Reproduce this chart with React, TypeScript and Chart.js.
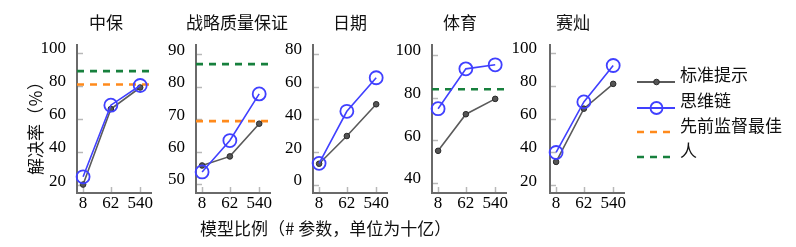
import React, { useEffect, useRef } from 'react';
import { Chart, registerables } from 'chart.js';

Chart.register(...registerables);

// ---------------- data ----------------
const modelSizes = [8, 62, 540];
const taskTitles = ['中保', '战略质量保证', '日期', '体育', '赛灿'];
const seriesNames = ['标准提示', '思维链', '先前监督最佳', '人'];
const yAxisTitle = '解决率（％）';
const xAxisTitle = '模型比例（# 参数，单位为十亿）';

const standardCsqa = [20.3, 66.0, 79.0];
const chainCsqa = [25.0, 68.3, 80.2];
const priorBestCsqa = 80.8;
const humanCsqa = 88.9;

const standardStrategy = [55.7, 58.5, 68.6];
const chainStrategy = [53.7, 63.4, 77.8];
const priorBestStrategy = 69.4;
const humanStrategy = 87.0;

const standardDate = [13.0, 29.9, 49.3];
const chainDate = [13.2, 45.0, 65.5];

const standardSports = [55.0, 72.2, 79.4];
const chainSports = [74.8, 93.5, 95.4];
const humanSports = 83.9;

const standardSaycan = [34.0, 66.2, 81.2];
const chainSaycan = [39.7, 70.3, 92.3];

const yTicksCsqa = [20, 40, 60, 80, 100];
const yTicksStrategy = [50, 60, 70, 80, 90];
const yTicksDate = [0, 20, 40, 60, 80];
const yTicksSports = [40, 60, 80, 100];
const yTicksSaycan = [20, 40, 60, 80, 100];

// ---------------- style / layout ----------------
const BLUE = 'rgb(64,64,255)';
const GREY = '#5a5a5a';
const ORANGE = '#ff8a1c';
const GREEN = '#17803d';
const CJK = "'Noto Sans CJK SC', 'Noto Sans CJK JP', sans-serif";
const SERIF = "'Liberation Serif', 'Times New Roman', serif";

const X_MIN = 5.1;
const X_MAX = 1290;
const PLOT_W = 75;
const PLOT_TOP = 45;
const PLOT_BOTTOM = 193;
const CANVAS_TOP = 20;
const Y_AXIS_W = 52;
const X_AXIS_H = 24;
const RIGHT_PAD = 12;

type PanelCfg = {
  title: string;
  standard: number[];
  chain: number[];
  prior?: number;
  human?: number;
  yTicks: number[];
  yMin: number;
  yMax: number;
  left: number;
  titleX: number;
  labelPad: number;
};

const panels: PanelCfg[] = [
  { title: taskTitles[0], standard: standardCsqa, chain: chainCsqa, prior: priorBestCsqa, human: humanCsqa, yTicks: yTicksCsqa, yMin: 15.2, yMax: 104.7, left: 77, titleX: 106, labelPad: 11 },
  { title: taskTitles[1], standard: standardStrategy, chain: chainStrategy, prior: priorBestStrategy, human: humanStrategy, yTicks: yTicksStrategy, yMin: 47.2, yMax: 92.9, left: 196, titleX: 237, labelPad: 11 },
  { title: taskTitles[2], standard: standardDate, chain: chainDate, yTicks: yTicksDate, yMin: -4.9, yMax: 85.5, left: 313, titleX: 350, labelPad: 11 },
  { title: taskTitles[3], standard: standardSports, chain: chainSports, human: humanSports, yTicks: yTicksSports, yMin: 35.2, yMax: 104.7, left: 432, titleX: 460, labelPad: 11 },
  { title: taskTitles[4], standard: standardSaycan, chain: chainSaycan, yTicks: yTicksSaycan, yMin: 15.2, yMax: 104.7, left: 550, titleX: 573, labelPad: 13 },
];

const innerTicks = {
  id: 'innerTicks',
  beforeDatasetsDraw(chart: any) {
    const { ctx, chartArea, scales } = chart;
    ctx.save();
    ctx.strokeStyle = '#b8b8b8';
    ctx.lineWidth = 1.5;
    scales.y.ticks.forEach((t: any) => {
      const y = Math.round(scales.y.getPixelForValue(t.value)) + 0.5;
      ctx.beginPath();
      ctx.moveTo(chartArea.left + 1, y);
      ctx.lineTo(chartArea.left + 6, y);
      ctx.stroke();
    });
    scales.x.ticks.forEach((t: any) => {
      const x = Math.round(scales.x.getPixelForValue(t.value)) + 0.5;
      ctx.beginPath();
      ctx.moveTo(x, chartArea.bottom - 1);
      ctx.lineTo(x, chartArea.bottom - 6);
      ctx.stroke();
    });
    ctx.restore();
  },
};

function Panel({ p }: { p: PanelCfg }) {
  const ref = useRef<HTMLCanvasElement>(null);
  const width = Y_AXIS_W + PLOT_W + RIGHT_PAD;
  const height = PLOT_BOTTOM - CANVAS_TOP + X_AXIS_H;

  useEffect(() => {
    const pts = (vals: number[]) => modelSizes.map((x, i) => ({ x, y: vals[i] }));
    const hline = (v: number) => [{ x: X_MIN, y: v }, { x: X_MAX, y: v }];
    const datasets: any[] = [
      {
        label: seriesNames[1], data: pts(p.chain), borderColor: BLUE, borderWidth: 1.6,
        pointRadius: 6.5, pointBorderWidth: 1.8, pointBorderColor: BLUE,
        pointBackgroundColor: 'rgba(0,0,0,0)', clip: false, order: 0,
      },
      {
        label: seriesNames[0], data: pts(p.standard), borderColor: GREY, borderWidth: 1.6,
        pointRadius: 2.8, pointBorderWidth: 1, pointBorderColor: '#2a2a2a',
        pointBackgroundColor: '#555', clip: false, order: 1,
      },
    ];
    if (p.prior != null) {
      datasets.push({
        label: seriesNames[2], data: hline(p.prior), borderColor: ORANGE, borderWidth: 2.6,
        borderDash: [7, 6], pointRadius: 0, clip: false, order: 2,
      });
    }
    if (p.human != null) {
      datasets.push({
        label: seriesNames[3], data: hline(p.human), borderColor: GREEN, borderWidth: 2.6,
        borderDash: [7, 6], pointRadius: 0, clip: false, order: 3,
      });
    }
    const chart = new Chart(ref.current as HTMLCanvasElement, {
      type: 'line',
      data: { datasets },
      options: {
        animation: false,
        responsive: false,
        maintainAspectRatio: false,
        layout: { padding: { top: PLOT_TOP - CANVAS_TOP, right: RIGHT_PAD, left: 0, bottom: 0 } },
        plugins: { legend: { display: false }, tooltip: { enabled: false } },
        elements: { line: { tension: 0 } },
        scales: {
          x: {
            type: 'logarithmic',
            min: X_MIN,
            max: X_MAX,
            afterBuildTicks: (s: any) => { s.ticks = modelSizes.map((v) => ({ value: v })); },
            afterFit: (s: any) => { s.height = X_AXIS_H; },
            ticks: {
              callback: (v: any) => String(v),
              color: '#000',
              font: { family: SERIF, size: 17, lineHeight: 1 },
              padding: 2,
              maxRotation: 0,
              autoSkip: false,
            },
            grid: { drawOnChartArea: false, drawTicks: false, lineWidth: 0 },
            border: { display: true, color: '#6a6a6a', width: 2 },
          },
          y: {
            type: 'linear',
            min: p.yMin,
            max: p.yMax,
            afterBuildTicks: (s: any) => { s.ticks = p.yTicks.map((v) => ({ value: v })); },
            afterFit: (s: any) => { s.width = Y_AXIS_W; },
            ticks: {
              color: '#000',
              font: { family: SERIF, size: 17, lineHeight: 1 },
              padding: p.labelPad,
              labelOffset: -4,
              autoSkip: false,
            },
            grid: { drawOnChartArea: false, drawTicks: false, lineWidth: 0 },
            border: { display: true, color: '#6a6a6a', width: 2 },
          },
        },
      } as any,
      plugins: [innerTicks],
    });
    return () => chart.destroy();
  }, []);

  return (
    <>
      <canvas
        ref={ref}
        width={width}
        height={height}
        style={{ position: 'absolute', left: p.left - Y_AXIS_W, top: CANVAS_TOP, width, height }}
      />
      <div
        style={{
          position: 'absolute', left: p.titleX - 100, top: 12, width: 200, textAlign: 'center',
          fontFamily: CJK, fontSize: 17, lineHeight: '20px', color: '#111', whiteSpace: 'nowrap',
        }}
      >
        {p.title}
      </div>
    </>
  );
}

function LegendIcon({ kind, top }: { kind: number; top: number }) {
  return (
    <svg
      width={40}
      height={16}
      style={{ position: 'absolute', left: 636, top: top - 8 }}
    >
      {kind === 0 && (
        <>
          <line x1={1} y1={8} x2={39} y2={8} stroke={GREY} strokeWidth={1.8} />
          <circle cx={20.5} cy={8} r={2.8} fill="#555" stroke="#2a2a2a" strokeWidth={1} />
        </>
      )}
      {kind === 1 && (
        <>
          <line x1={1} y1={8} x2={39} y2={8} stroke={BLUE} strokeWidth={1.8} />
          <circle cx={20.5} cy={8} r={6} fill="none" stroke={BLUE} strokeWidth={1.8} />
        </>
      )}
      {kind === 2 && <line x1={1} y1={8} x2={36} y2={8} stroke={ORANGE} strokeWidth={2.6} strokeDasharray="7 6" />}
      {kind === 3 && <line x1={1} y1={8} x2={36} y2={8} stroke={GREEN} strokeWidth={2.6} strokeDasharray="7 6" />}
    </svg>
  );
}

const legendLineY = [82, 107.5, 131.5, 157];
const legendTextY = [73.5, 99.5, 124.5, 150];

export default function App() {
  return (
    <div style={{ position: 'absolute', left: 0, top: 0, width: 796, height: 247, background: '#fff', overflow: 'hidden' }}>
      {panels.map((p, i) => (
        <Panel key={i} p={p} />
      ))}
      <div
        style={{
          position: 'absolute', left: 35 - 60, top: 124 - 10, width: 120, height: 20, textAlign: 'center',
          transform: 'rotate(-90deg)', transformOrigin: '50% 50%',
          fontFamily: CJK, fontSize: 17, lineHeight: '20px', color: '#111', whiteSpace: 'nowrap',
        }}
      >
        {yAxisTitle}
      </div>
      <div
        style={{
          position: 'absolute', left: 200, top: 218, fontFamily: CJK, fontSize: 17, lineHeight: '20px',
          color: '#111', whiteSpace: 'nowrap',
        }}
      >
        {xAxisTitle}
      </div>
      {seriesNames.map((name, i) => (
        <React.Fragment key={name}>
          <LegendIcon kind={i} top={legendLineY[i]} />
          <div
            style={{
              position: 'absolute', left: 680, top: legendTextY[i] - 10, fontFamily: CJK, fontSize: 17,
              lineHeight: '20px', color: '#111', whiteSpace: 'nowrap',
            }}
          >
            {name}
          </div>
        </React.Fragment>
      ))}
    </div>
  );
}
